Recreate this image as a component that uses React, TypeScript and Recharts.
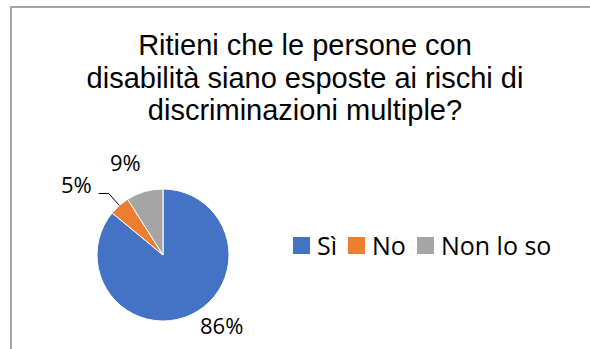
import { PieChart, Pie, Cell, Legend } from 'recharts'

const categories = ['Sì', 'No', 'Non lo so']
const values = [86, 5, 9]
const COLORS = ['#4472C4', '#ED7D31', '#A5A5A5']
const titleLines = [
  'Ritieni che le persone con',
  'disabilità siano esposte ai rischi di',
  'discriminazioni multiple?',
]

const data = categories.map((name, i) => ({ name, value: values[i] }))

const RADIAN = Math.PI / 180
const LABEL_FONT = '"Open Sans", sans-serif'

function renderLabel(props: any) {
  const { cx, cy, midAngle, outerRadius, percent, index } = props
  const cos = Math.cos(-midAngle * RADIAN)
  const sin = Math.sin(-midAngle * RADIAN)
  const text = `${Math.round(percent * 100)}%`
  const anchor = cos >= 0 ? 'start' : 'end'

  // small slice gets an elbow leader line, like Excel does
  if (percent < 0.07) {
    const sx = cx + outerRadius * cos
    const sy = cy + outerRadius * sin
    const mx = cx + (outerRadius + 16) * cos
    const my = cy + (outerRadius + 16) * sin
    const ex = mx + (cos >= 0 ? 10 : -10)
    return (
      <g key={`label-${index}`}>
        <polyline points={`${sx},${sy} ${mx},${my} ${ex},${my}`} fill="none" stroke="#000" strokeWidth={1} />
        <text x={ex + (cos >= 0 ? 7 : -7)} y={my} textAnchor={anchor} fill="#000" fontSize={22} fontFamily={LABEL_FONT}>
          {text}
        </text>
      </g>
    )
  }

  const r = outerRadius + 21
  return (
    <text key={`label-${index}`} x={cx + r * cos + (cos >= 0 ? 0 : 2)} y={cy + r * sin} textAnchor={anchor} fill="#000" fontSize={22} fontFamily={LABEL_FONT}>
      {text}
    </text>
  )
}

function renderLegend(props: any) {
  const payload = [...(props.payload || [])].sort(
    (a: any, b: any) => categories.indexOf(a.value) - categories.indexOf(b.value)
  )
  return (
    <div style={{ display: 'flex', alignItems: 'center', fontFamily: LABEL_FONT, fontSize: 25, color: '#000', whiteSpace: 'nowrap' }}>
      {payload.map((entry: any, i: number) => (
        <div key={`leg-${i}`} style={{ display: 'flex', alignItems: 'center', marginRight: 11 }}>
          <span style={{ display: 'inline-block', width: 17, height: 17, background: entry.color, marginRight: 7 }} />
          <span style={{ lineHeight: '26px' }}>{entry.value}</span>
        </div>
      ))}
    </div>
  )
}

export default function App() {
  return (
    <div style={{ position: 'absolute', left: 0, top: 0, width: 590, height: 349, overflow: 'hidden', background: '#fff' }}>
      <div
        style={{
          position: 'absolute',
          left: 10,
          top: 6,
          width: 620,
          height: 380,
          border: '2px solid #a6a6a6',
          boxSizing: 'border-box',
        }}
      />
      <div
        style={{
          position: 'absolute',
          left: 0,
          top: 29,
          width: 610,
          textAlign: 'center',
          fontFamily: '"Liberation Sans", Arial, sans-serif',
          fontSize: 29,
          lineHeight: '32.5px',
          color: '#000',
        }}
      >
        {titleLines.map((line, i) => (
          <div key={i}>{line}</div>
        ))}
      </div>
      <div style={{ position: 'absolute', left: 0, top: 0 }}>
        <PieChart width={590} height={349} margin={{ top: 0, right: 0, bottom: 0, left: 0 }}>
          <Pie
            data={data}
            dataKey="value"
            nameKey="name"
            cx={163}
            cy={255}
            outerRadius={66}
            startAngle={90}
            endAngle={-270}
            stroke="#fff"
            strokeWidth={1}
            label={renderLabel}
            labelLine={false}
            isAnimationActive={false}
          >
            {data.map((_, i) => (
              <Cell key={`cell-${i}`} fill={COLORS[i % COLORS.length]} />
            ))}
          </Pie>
          <Legend
            content={renderLegend}
            itemSorter={null as any}
            wrapperStyle={{ left: 293, top: 232, width: 'auto' }}
          />
        </PieChart>
      </div>
    </div>
  )
}
